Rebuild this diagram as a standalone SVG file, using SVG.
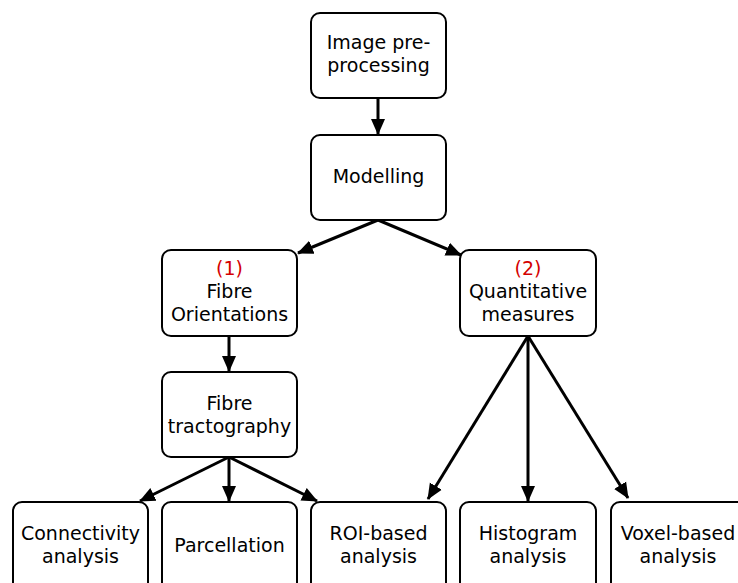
<svg xmlns="http://www.w3.org/2000/svg" width="738" height="583" viewBox="0 0 738 583">
<style>
.box{fill:#fff;stroke:#000;stroke-width:2}
.t{font-family:"DejaVu Sans",sans-serif;font-size:19px;fill:#000;text-anchor:middle}
.r{fill:#d40000}
.c{stroke:#000;stroke-width:3;fill:none;marker-end:url(#ah)}
</style>
<defs>
<marker id="ah" markerUnits="userSpaceOnUse" markerWidth="16" markerHeight="16" viewBox="0 0 16 16" refX="15" refY="8" orient="auto">
<path d="M0,1 L16,8 L0,15 Z" fill="#000"/>
</marker>
</defs>
<rect width="738" height="583" fill="#fff"/>
<g id="connectors">
<line class="c" x1="378" y1="98" x2="378" y2="134"/>
<line class="c" x1="378" y1="220" x2="298" y2="253"/>
<line class="c" x1="378" y1="220" x2="461" y2="255"/>
<line class="c" x1="229" y1="336" x2="229" y2="371"/>
<line class="c" x1="229" y1="457" x2="140" y2="501"/>
<line class="c" x1="229" y1="457" x2="229" y2="501"/>
<line class="c" x1="229" y1="457" x2="317" y2="501"/>
<line class="c" x1="528" y1="336" x2="428" y2="499"/>
<line class="c" x1="528" y1="336" x2="528" y2="501"/>
<line class="c" x1="528" y1="336" x2="628" y2="498"/>
</g>
<g id="n1"><rect class="box" x="311" y="13" width="135" height="85" rx="9"/><text class="t" x="378.5" y="49">Image pre-</text><text class="t" x="378.5" y="72">processing</text></g>
<g id="n2"><rect class="box" x="311" y="135" width="135" height="85" rx="9"/><text class="t" x="378.5" y="183">Modelling</text></g>
<g id="n3"><rect class="box" x="162" y="250" width="135" height="86" rx="9"/><text class="t r" x="229.5" y="275">(1)</text><text class="t" x="229.5" y="298">Fibre</text><text class="t" x="229.5" y="321">Orientations</text></g>
<g id="n4"><rect class="box" x="460" y="250" width="136" height="86" rx="9"/><text class="t r" x="528" y="275">(2)</text><text class="t" x="528" y="298">Quantitative</text><text class="t" x="528" y="321">measures</text></g>
<g id="n5"><rect class="box" x="162" y="372" width="135" height="85" rx="9"/><text class="t" x="229.5" y="410">Fibre</text><text class="t" x="229.5" y="433">tractography</text></g>
<g id="n6"><rect class="box" x="13" y="502" width="135" height="95" rx="9"/><text class="t" x="80.5" y="540">Connectivity</text><text class="t" x="80.5" y="563">analysis</text></g>
<g id="n7"><rect class="box" x="162" y="502" width="135" height="95" rx="9"/><text class="t" x="229.5" y="552">Parcellation</text></g>
<g id="n8"><rect class="box" x="311" y="502" width="135" height="95" rx="9"/><text class="t" x="378.5" y="540">ROI-based</text><text class="t" x="378.5" y="563">analysis</text></g>
<g id="n9"><rect class="box" x="460" y="502" width="136" height="95" rx="9"/><text class="t" x="528" y="540">Histogram</text><text class="t" x="528" y="563">analysis</text></g>
<g id="n10"><rect class="box" x="611" y="502" width="136" height="95" rx="9"/><text class="t" x="678" y="540">Voxel-based</text><text class="t" x="678" y="563">analysis</text></g>
</svg>
